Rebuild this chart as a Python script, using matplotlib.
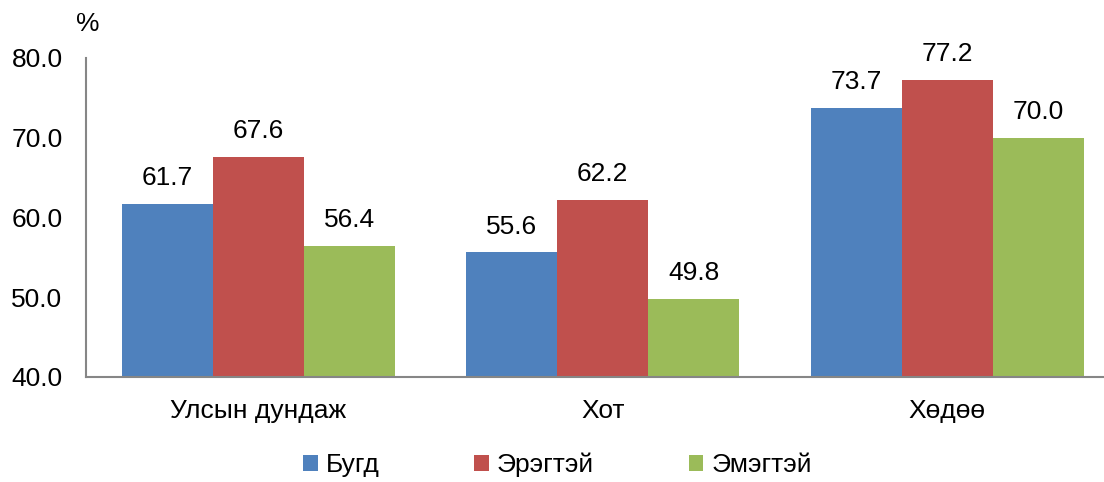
import numpy as np
import matplotlib.pyplot as plt

plt.rcParams['font.family'] = ['Liberation Sans', 'DejaVu Sans']

categories = ['Улсын дундаж', 'Хот', 'Хөдөө']
series_names = ['Бугд', 'Эрэгтэй', 'Эмэгтэй']
bugd = [61.7, 55.6, 73.7]
eregtei = [67.6, 62.2, 77.2]
emegtei = [56.4, 49.8, 70.0]
colors = ['#4F81BD', '#C0504D', '#9BBB59']

fig = plt.figure(figsize=(11.04, 4.82), dpi=100)
ax = fig.add_axes([0.078, 0.218, 0.922, 0.662])

x = np.arange(len(categories))
w = 0.264
for i, (vals, name, c) in enumerate(zip([bugd, eregtei, emegtei], series_names, colors)):
    bars = ax.bar(x + (i - 1) * w, vals, w, color=c, label=name, zorder=2)
    ax.bar_label(bars, labels=[f'{v:.1f}' for v in vals], padding=10, fontsize=19)

ax.set_ylim(40, 80)
ax.set_xlim(-0.5, 2.455)
ax.set_yticks([40, 50, 60, 70, 80])
ax.set_yticklabels([f'{v:.1f}' for v in [40, 50, 60, 70, 80]])
ax.set_xticks(x)
ax.set_xticklabels(categories)
ax.tick_params(axis='both', length=0, labelsize=19)
ax.tick_params(axis='x', pad=16)
ax.tick_params(axis='y', pad=17)
for s in ['top', 'right']:
    ax.spines[s].set_visible(False)
for s in ['left', 'bottom']:
    ax.spines[s].set_color('#868686')
    ax.spines[s].set_linewidth(1.5)

ax.text(-0.01, 1.07, '%', transform=ax.transAxes, fontsize=19, ha='left', va='bottom')

fig.legend(loc='center', bbox_to_anchor=(0.505, 0.035), ncol=3, frameon=False,
           fontsize=19, handlelength=0.55, handleheight=0.55, handletextpad=0.3,
           columnspacing=3.6)

fig.savefig('out.png', dpi=100)
